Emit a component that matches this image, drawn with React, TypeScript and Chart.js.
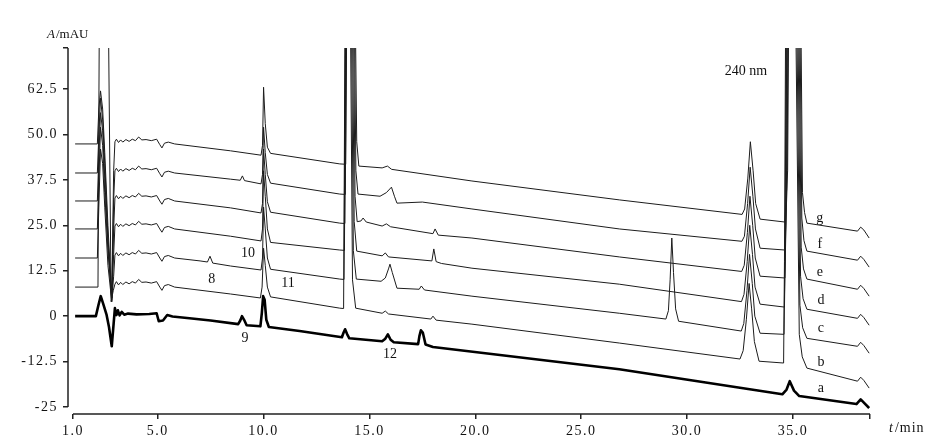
import React, { useEffect, useRef } from 'react';
import { Chart, registerables } from 'chart.js';
Chart.register(...registerables);

// ---------- axes ----------
const xMin = 0.764;
const xMax = 38.64;
const yMin = -26.93;
const yMax = 73.8;
const xTicks = [1, 5, 10, 15, 20, 25, 30, 35, 38.64];
const xTickLabels = ['1.0', '5.0', '10.0', '15.0', '20.0', '25.0', '30.0', '35.0', ''];
const yTicks = [-25, -12.5, 0, 12.5, 25, 37.5, 50, 62.5, 73.8];
const yTickLabels = ['-25', '-12.5', '0', '12.5', '25.0', '37.5', '50.0', '62.5', ''];

// ---------- traces: [t/min, A/mAU] ----------
const traceG: number[][] = [
  [1.1, 47.4], [2.15, 47.4], [2.22, 57], [2.3, 62], [2.4, 57], [2.5, 45], [2.65, 25], [2.83, 5], [2.92, 40], [2.98, 48.0],
  [3.05, 48.7], [3.15, 47.8], [3.25, 48.5], [3.35, 47.9], [3.5, 48.6], [3.65, 48.1], [3.8, 48.7], [3.95, 48.3], [4.1, 49.3],
  [4.25, 48.5], [4.45, 48.6], [4.7, 48.3], [4.95, 48.7], [5.1, 47.2], [5.2, 46.3], [5.32, 47.6], [5.5, 47.9], [5.8, 47.4],
  [8.44, 45.5], [9.88, 44.3], [9.95, 47], [10.0, 63], [10.08, 53], [10.18, 46.5], [10.33, 44.8],
  [13.6, 41.9], [13.88, 41.8], [13.95, 100], [14.1, 160], [14.3, 100], [14.4, 48], [14.5, 41.3],
  [15.6, 40.8], [15.85, 41.3], [16.05, 40.4], [19.84, 37.2], [26.8, 32.0],
  [32.6, 28.0], [32.72, 29.5], [32.87, 38], [32.99, 48], [33.12, 40], [33.24, 31], [33.45, 26.7],
  [34.62, 25.9], [34.75, 40], [34.82, 100], [35.1, 170], [35.35, 100], [35.45, 34], [35.55, 28.5], [35.66, 25.6],
  [38.05, 23.4], [38.2, 24.5], [38.35, 23.7], [38.6, 21.5],
];
const traceF: number[][] = [
  [1.1, 39.4], [2.15, 39.4], [2.22, 50], [2.3, 60], [2.4, 54], [2.5, 42], [2.65, 22], [2.83, 4.5], [2.92, 32], [2.98, 40.0],
  [3.05, 40.7], [3.15, 39.8], [3.25, 40.5], [3.35, 39.9], [3.5, 40.6], [3.65, 40.1], [3.8, 40.7], [3.95, 40.3], [4.1, 41.3],
  [4.25, 40.5], [4.45, 40.6], [4.7, 40.3], [4.95, 40.7], [5.1, 39.2], [5.2, 38.3], [5.32, 39.6], [5.5, 39.9], [5.8, 39.4],
  [8.44, 37.7], [8.9, 37.4], [9.0, 38.6], [9.1, 37.3], [9.88, 36.4], [9.95, 39], [10.0, 52], [10.08, 45], [10.18, 39], [10.33, 36.6],
  [13.6, 33.6], [13.86, 33.5], [13.93, 100], [14.08, 155], [14.26, 100], [14.36, 40], [14.46, 33.6],
  [15.5, 33.0], [15.8, 34.0], [16.04, 35.5], [16.18, 33], [16.3, 31.1], [17.5, 31.4], [19.84, 29.5], [26.8, 24.0],
  [32.59, 20.6], [32.71, 22], [32.86, 31], [32.98, 41], [33.11, 33], [33.23, 24], [33.45, 18.7],
  [34.62, 18.2], [34.72, 35], [34.79, 100], [35.08, 165], [35.3, 100], [35.42, 27], [35.52, 20.8], [35.66, 17.9],
  [38.05, 15.4], [38.2, 16.5], [38.35, 15.6], [38.6, 13.5],
];
const traceE: number[][] = [
  [1.1, 31.7], [2.15, 31.7], [2.22, 44], [2.3, 56], [2.4, 51], [2.5, 38], [2.65, 20], [2.83, 4], [2.92, 24], [2.98, 32.5],
  [3.05, 33.2], [3.15, 32.3], [3.25, 33.0], [3.35, 32.4], [3.5, 33.1], [3.65, 32.6], [3.8, 33.2], [3.95, 32.8], [4.1, 33.8],
  [4.25, 33.0], [4.45, 33.1], [4.7, 32.8], [4.95, 33.2], [5.1, 31.7], [5.2, 30.8], [5.32, 32.1], [5.5, 32.4], [5.8, 31.7],
  [8.44, 29.8], [9.88, 28.4], [9.95, 31], [10.0, 46], [10.08, 39], [10.18, 31.5], [10.33, 28.6],
  [13.6, 25.6], [13.84, 25.5], [13.91, 100], [14.06, 150], [14.22, 100], [14.32, 33], [14.42, 26.0],
  [14.6, 26.2], [14.7, 27.0], [14.85, 25.9], [15.6, 24.8], [15.8, 25.4], [16.0, 24.6],
  [18.0, 22.7], [18.1, 24.0], [18.25, 22.3], [19.84, 21.5], [26.8, 16.3],
  [32.58, 12.3], [32.7, 14], [32.85, 23], [32.97, 33], [33.1, 25], [33.22, 16], [33.45, 11.0],
  [34.62, 10.5], [34.69, 30], [34.76, 100], [35.05, 160], [35.25, 100], [35.39, 19], [35.5, 13.0], [35.66, 10.2],
  [38.05, 7.4], [38.2, 8.5], [38.35, 7.6], [38.6, 5.5],
];
const traceD: number[][] = [
  [1.1, 24.0], [2.15, 24.0], [2.22, 37], [2.3, 52], [2.4, 47], [2.5, 34], [2.65, 18], [2.83, 5], [2.92, 17], [2.98, 24.8],
  [3.05, 25.5], [3.15, 24.6], [3.25, 25.3], [3.35, 24.7], [3.5, 25.4], [3.65, 24.9], [3.8, 25.5], [3.95, 25.1], [4.1, 26.1],
  [4.25, 25.3], [4.45, 25.4], [4.7, 25.1], [4.95, 25.5], [5.1, 24.0], [5.2, 23.1], [5.32, 24.4], [5.5, 24.7], [5.8, 24.0],
  [8.44, 22.0], [9.88, 20.7], [9.95, 24], [10.0, 40], [10.08, 33], [10.18, 24], [10.33, 20.3],
  [13.6, 18.2], [13.82, 18.1], [13.89, 95], [14.04, 145], [14.18, 95], [14.28, 26], [14.4, 17.9],
  [15.6, 16.6], [15.75, 17.4], [15.9, 16.3], [17.95, 15.2], [18.04, 18.5], [18.15, 15.0], [18.4, 14.5],
  [19.84, 13.2], [26.8, 8.8],
  [32.57, 4.0], [32.69, 6], [32.84, 15], [32.96, 25], [33.09, 17], [33.21, 8], [33.45, 3.3],
  [34.6, 2.5], [34.66, 25], [34.73, 100], [35.02, 155], [35.2, 100], [35.36, 11], [35.48, 4.8], [35.66, 1.9],
  [38.05, -0.6], [38.2, 0.5], [38.35, -0.4], [38.6, -2.5],
];
const traceC: number[][] = [
  [1.1, 16.0], [2.15, 16.0], [2.22, 30], [2.3, 46], [2.4, 42], [2.5, 30], [2.65, 14], [2.83, 4], [2.92, 11], [2.98, 16.8],
  [3.05, 17.5], [3.15, 16.6], [3.25, 17.3], [3.35, 16.7], [3.5, 17.4], [3.65, 16.9], [3.8, 17.5], [3.95, 17.1], [4.1, 18.1],
  [4.25, 17.3], [4.45, 17.4], [4.7, 17.1], [4.95, 17.5], [5.1, 16.0], [5.2, 15.1], [5.32, 16.4], [5.5, 16.7], [5.8, 16.0],
  [7.0, 15.2], [7.35, 14.9], [7.47, 16.5], [7.6, 14.6], [8.44, 13.8], [9.88, 12.7], [9.95, 16], [10.0, 30], [10.08, 24],
  [10.18, 16], [10.33, 12.9],
  [13.6, 10.2], [13.8, 10.1], [13.87, 90], [14.02, 140], [14.14, 90], [14.24, 18], [14.38, 10.2],
  [15.55, 9.6], [15.75, 10.5], [15.9, 13], [15.97, 14.3], [16.08, 12], [16.3, 7.7], [17.35, 7.4], [17.45, 8.3], [17.6, 7.2],
  [19.84, 5.5], [26.8, 0.8],
  [29.0, -0.8], [29.12, 1.5], [29.2, 10], [29.28, 21.5], [29.36, 12], [29.46, 2], [29.6, -1.4],
  [32.56, -4.1], [32.68, -2], [32.83, 7], [32.95, 17], [33.08, 9], [33.2, 0], [33.45, -4.7],
  [34.58, -5.0], [34.63, 20], [34.7, 100], [35.0, 150], [35.15, 100], [35.33, 3], [35.46, -3.2], [35.66, -6.1],
  [38.05, -8.3], [38.2, -7.2], [38.35, -8.1], [38.6, -10.2],
];
const traceB: number[][] = [
  [1.1, 8.0], [2.18, 8.0], [2.25, 90], [2.45, 140], [2.66, 90], [2.8, 4], [2.9, 7], [2.98, 8.8],
  [3.05, 9.5], [3.15, 8.6], [3.25, 9.3], [3.35, 8.7], [3.5, 9.4], [3.65, 8.9], [3.8, 9.5], [3.95, 9.1], [4.1, 10.1],
  [4.25, 9.3], [4.45, 9.4], [4.7, 9.1], [4.95, 9.5], [5.1, 8.0], [5.2, 7.1], [5.32, 8.4], [5.5, 8.7], [5.8, 8.0],
  [8.44, 6.1], [9.85, 5.0], [9.93, 8], [10.0, 18.7], [10.08, 14], [10.18, 8], [10.33, 5.3],
  [13.6, 2.2], [13.78, 2.1], [13.85, 85], [14.0, 135], [14.1, 85], [14.2, 10], [14.35, 2.2],
  [15.6, 0.8], [15.75, 1.4], [15.9, 0.6], [17.9, -0.8], [18.0, 0.0], [18.15, -1.1], [19.84, -2.2], [26.8, -7.4],
  [32.5, -11.8], [32.65, -9.5], [32.8, -1], [32.93, 9], [33.05, 2], [33.18, -7], [33.4, -12.4],
  [34.56, -12.9], [34.6, 15], [34.67, 100], [34.95, 145], [35.1, 100], [35.3, -5], [35.44, -11.2], [35.66, -14.3],
  [38.05, -17.9], [38.2, -16.8], [38.35, -17.7], [38.6, -19.8],
];
const traceA: number[][] = [
  [1.1, 0], [2.08, 0], [2.2, 3], [2.31, 5.5], [2.42, 3.5], [2.58, 0.5], [2.7, -3], [2.83, -8.3], [2.92, -2], [2.98, 2.2],
  [3.05, 0.3], [3.12, 1.6], [3.2, 0.2], [3.3, 1.2], [3.42, 0.4], [3.6, 0.7], [4.0, 0.5], [4.6, 0.6], [4.95, 0.8],
  [5.05, -1.4], [5.25, -1.2], [5.45, 0.3], [5.7, -0.1], [6.5, -0.6], [7.5, -1.2],
  [8.8, -2.2], [8.9, -1.2], [8.98, 0.0], [9.08, -1.0], [9.2, -2.5], [9.85, -2.8], [9.92, 1.0], [9.98, 5.5], [10.05, 4.5],
  [10.13, -1.0], [10.25, -3.0], [11.7, -4.1],
  [13.7, -5.8], [13.78, -4.5], [13.85, -3.6], [13.95, -5.0], [14.05, -6.1], [15.6, -6.9], [15.75, -6.2], [15.87, -5.0],
  [16.0, -6.5], [16.15, -7.2], [17.3, -7.7], [17.36, -5.5], [17.43, -3.9], [17.52, -4.5], [17.65, -7.8], [18.0, -8.5],
  [26.8, -14.6], [34.5, -21.5], [34.7, -20.2], [34.85, -17.9], [35.05, -20.5], [35.3, -22.0],
  [38.0, -24.2], [38.2, -22.9], [38.35, -23.8], [38.6, -25.3],
];

const traceNames = ['g', 'f', 'e', 'd', 'c', 'b', 'a'];
const traces = [traceG, traceF, traceE, traceD, traceC, traceB, traceA];

// ---------- annotations: [text, t, A] ----------
const peakLabels: [string, number, number][] = [
  ['10', 9.26, 17.3], ['8', 7.55, 10.2], ['11', 11.15, 9.1], ['9', 9.12, -6.05], ['12', 15.97, -10.5],
];
const traceLabels: [string, number, number][] = [
  ['g', 36.27, 27.0], ['f', 36.27, 19.8], ['e', 36.27, 12.1], ['d', 36.32, 4.4],
  ['c', 36.32, -3.3], ['b', 36.32, -12.7], ['a', 36.32, -19.8],
];
const wavelengthLabel: [string, number, number] = ['240 nm', 32.78, 67.4];

const SERIF = '"Liberation Serif", "DejaVu Serif", serif';

const spacingPlugin = {
  id: 'spacing',
  beforeDraw(chart: any) {
    chart.ctx.letterSpacing = '1.5px';
  },
};

const decorPlugin = {
  id: 'decor',
  afterDraw(chart: any) {
    const { ctx, chartArea } = chart;
    const x = chart.scales.x;
    const y = chart.scales.y;
    ctx.save();
    ctx.letterSpacing = '0px';
    ctx.strokeStyle = '#222';
    ctx.lineWidth = 1.5;
    ctx.beginPath();
    ctx.moveTo(chartArea.left, y.getPixelForValue(yTicks[0]));
    ctx.lineTo(chartArea.left, chartArea.top);
    ctx.moveTo(x.getPixelForValue(xTicks[0]), chartArea.bottom);
    ctx.lineTo(chartArea.right, chartArea.bottom);
    ctx.stroke();

    ctx.fillStyle = '#111';
    ctx.textAlign = 'center';
    ctx.textBaseline = 'middle';
    ctx.font = `14px ${SERIF}`;
    const all = [...peakLabels, ...traceLabels, wavelengthLabel];
    for (const [txt, t, v] of all) {
      ctx.fillText(txt, x.getPixelForValue(t), y.getPixelForValue(v));
    }

    // axis titles
    ctx.textAlign = 'left';
    ctx.textBaseline = 'alphabetic';
    const drawTitle = (italic: string, rest: string, px: number, py: number, size: number, sp: string) => {
      ctx.letterSpacing = sp;
      ctx.font = `italic ${size}px ${SERIF}`;
      ctx.fillText(italic, px, py);
      const w = ctx.measureText(italic).width;
      ctx.font = `${size}px ${SERIF}`;
      ctx.fillText(rest, px + w + 1, py);
    };
    drawTitle('A', '/mAU', chartArea.left - 21, chartArea.top - 10, 13, '0px');
    drawTitle('t', '/min', chartArea.right + 19, chartArea.bottom + 18, 14, '1px');
    ctx.restore();
    ctx.letterSpacing = '0px';
  },
};

export default function App() {
  const ref = useRef<HTMLCanvasElement>(null);
  useEffect(() => {
    const datasets = traces.map((tr, i) => ({
      label: traceNames[i],
      data: tr.map(([t, v]) => ({ x: t, y: v })),
      borderColor: traceNames[i] === 'a' ? '#000' : '#1c1c1c',
      borderWidth: traceNames[i] === 'a' ? 2.6 : 1,
      pointRadius: 0,
      tension: 0,
      fill: false,
      borderJoinStyle: 'round' as const,
    }));
    const chart = new Chart(ref.current!, {
      type: 'line',
      data: { datasets },
      plugins: [spacingPlugin, decorPlugin],
      options: {
        animation: false,
        responsive: false,
        events: [],
        parsing: false,
        layout: { padding: { top: 48, right: 62, left: 0, bottom: 0 } },
        plugins: { legend: { display: false }, tooltip: { enabled: false } },
        scales: {
          x: {
            type: 'linear',
            min: xMin,
            max: xMax,
            afterBuildTicks: (s: any) => { s.ticks = xTicks.map((v) => ({ value: v })); },
            afterFit: (s: any) => { s.height = 30; },
            ticks: {
              autoSkip: false,
              maxRotation: 0,
              padding: 4,
              color: '#111',
              font: { family: SERIF, size: 14 },
              callback: (_v: any, i: number) => xTickLabels[i],
            },
            grid: { display: true, drawOnChartArea: false, drawTicks: true, tickLength: 5, color: '#222', lineWidth: 1.5 },
            border: { display: false },
          },
          y: {
            type: 'linear',
            min: yMin,
            max: yMax,
            afterBuildTicks: (s: any) => { s.ticks = yTicks.map((v) => ({ value: v })); },
            afterFit: (s: any) => { s.width = 68; },
            ticks: {
              autoSkip: false,
              padding: 5,
              color: '#111',
              font: { family: SERIF, size: 14 },
              callback: (_v: any, i: number) => yTickLabels[i],
            },
            grid: { display: true, drawOnChartArea: false, drawTicks: true, tickLength: 5, color: '#222', lineWidth: 1.5 },
            border: { display: false },
          },
        },
      },
    });
    return () => chart.destroy();
  }, []);
  return (
    <div style={{ position: 'absolute', left: 0, top: 0, width: 932, height: 444, background: '#fff' }}>
      <canvas ref={ref} width={932} height={444} style={{ display: 'block' }} />
    </div>
  );
}
